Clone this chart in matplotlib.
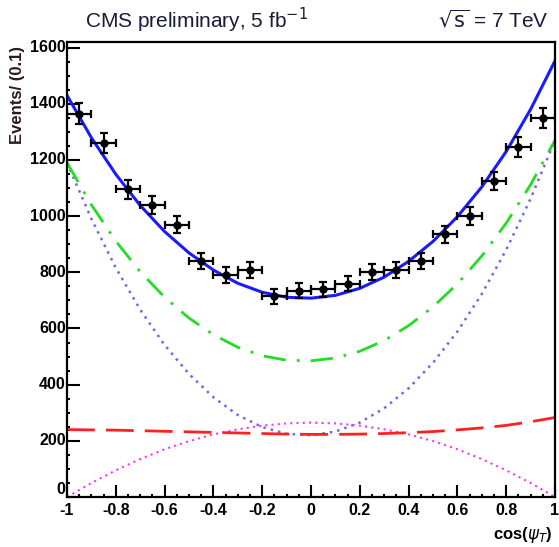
import numpy as np
import matplotlib
matplotlib.use("Agg")
import matplotlib.pyplot as plt
from matplotlib.ticker import MultipleLocator

plt.rcParams['font.family'] = ['Liberation Sans', 'DejaVu Sans']

# data points (bin centres, events per 0.1)
bin_centers = [-0.95, -0.85, -0.75, -0.65, -0.55, -0.45, -0.35, -0.25, -0.15, -0.05,
               0.05, 0.15, 0.25, 0.35, 0.45, 0.55, 0.65, 0.75, 0.85, 0.95]
events = [1365, 1260, 1095, 1040, 970, 840, 790, 810, 715, 735,
          740, 760, 800, 810, 840, 935, 1000, 1125, 1245, 1350]

# fit components, every 0.1 in cos(psi_T)
curve_x = [-1.0, -0.9, -0.8, -0.7, -0.6, -0.5, -0.4, -0.3, -0.2, -0.1, 0.0,
           0.1, 0.2, 0.3, 0.4, 0.5, 0.6, 0.7, 0.8, 0.9, 1.0]
comp_blue = [1190, 990, 816, 667, 541, 438, 355, 292, 249, 225, 220,
             233, 265, 316, 387, 478, 589, 723, 880, 1062, 1270]
comp_magenta = [0, 50, 95, 135, 170, 199, 223, 241, 254, 262, 265,
                262, 254, 241, 223, 199, 170, 135, 95, 50, 0]
comp_red = [240, 239, 238, 236, 234, 232, 230, 228, 226, 224, 223,
            223, 224, 226, 229, 233, 239, 246, 255, 268, 283]

comp_green = np.array(comp_blue) + np.array(comp_magenta)
total = comp_green + np.array(comp_red)

fig = plt.figure(figsize=(5.59, 5.47), dpi=100)
ax = fig.add_axes([0.1199, 0.0914, 0.8729, 0.8318])

ax.plot(curve_x, comp_blue, color='#6a6ae8', lw=1.8, ls=(0, (1, 2)))
ax.plot(curve_x, comp_magenta, color='#ff33ff', lw=1.5, ls=(0, (1, 2)))
ax.plot(curve_x, comp_red, color='#ff2020', lw=2.0, ls=(0, (10, 4)))
ax.plot(curve_x, comp_green, color='#22dd22', lw=2.0, ls=(0, (8, 4, 1, 4)))
ax.plot(curve_x, total, color='#1a1aff', lw=2.2)

ax.errorbar(bin_centers, events, xerr=0.05, yerr=np.sqrt(events), fmt='o',
            color='black', ms=5, lw=1.6, capsize=3, capthick=1.6)

ax.set_xlim(-1, 1)
ax.set_ylim(0, 1620)
ax.xaxis.set_major_locator(MultipleLocator(0.2))
ax.xaxis.set_minor_locator(MultipleLocator(0.05))
ax.yaxis.set_major_locator(MultipleLocator(200))
ax.yaxis.set_minor_locator(MultipleLocator(50))
ax.tick_params(which='both', direction='in', top=False, right=False, width=1.5)
ax.tick_params(which='major', length=9, labelsize=11.5)
ax.tick_params(axis='y', pad=1)
ax.tick_params(axis='x', pad=4)
ax.set_xticks([-1, -0.8, -0.6, -0.4, -0.2, 0, 0.2, 0.4, 0.6, 0.8, 1])
ax.set_xticklabels(['-1', '-0.8', '-0.6', '-0.4', '-0.2', '0', '0.2', '0.4', '0.6', '0.8', '1'],
                   fontweight='bold')
plt.setp(ax.get_yticklabels(), fontweight='bold')
for lab in ax.get_yticklabels():
    lab.set_va('bottom' if lab.get_text() == '0' else 'center')
for s in ax.spines.values():
    s.set_linewidth(1.6)

fig.text(0.152, 0.963, 'CMS preliminary, 5 fb$^{-1}$', fontsize=15, color='#1a1a3a', va='center')
fig.text(0.982, 0.963, r'$\sqrt{\mathrm{s}}$ = 7 TeV', fontsize=15, color='#1a1a3a',
         va='center', ha='right')
fig.text(0.032, 0.915, 'Events/ (0.1)', rotation=90, fontsize=12, fontweight='bold',
         ha='center', va='top', color='#2a1a1a')
fig.text(0.988, 0.003, r'cos($\psi_T$)', fontsize=12, fontweight='bold', ha='right', va='bottom')

fig.savefig('out.png', dpi=100)
